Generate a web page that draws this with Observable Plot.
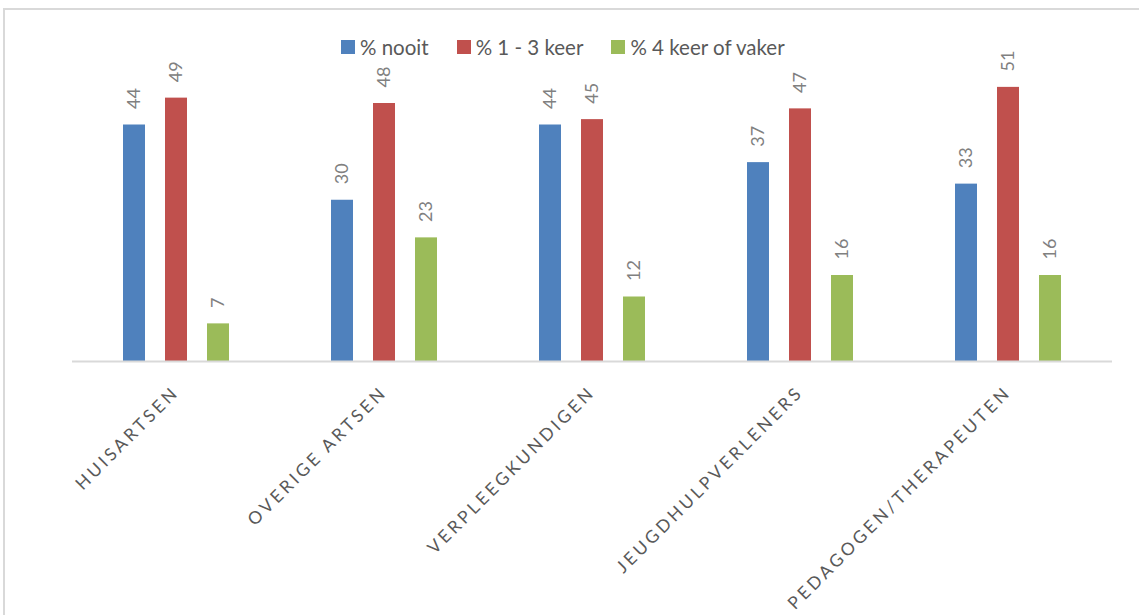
<!DOCTYPE html>
<html>
<head>
<meta charset="utf-8">
<script src="https://cdn.jsdelivr.net/npm/d3@7"></script>
<script src="https://cdn.jsdelivr.net/npm/@observablehq/plot@0.6"></script>
<style>
  body { margin: 0; background: #fff; }
  #wrap { position: relative; width: 1139px; height: 615px; overflow: hidden; font-family: Lato, "Open Sans", sans-serif; }
  #box { position: absolute; left: 3px; top: 8px; width: 1200px; height: 700px; border-left: 2px solid #d9d9d9; border-top: 2px solid #d9d9d9; }
  #chart { position: absolute; left: 0; top: 0; }
  #legend { position: absolute; top: 35px; left: 341px; display: flex; align-items: center; font-size: 20.5px; color: #595959; white-space: nowrap; }
  .item { display: flex; align-items: center; margin-right: 28px; }
  .sw { width: 14px; height: 14px; margin-right: 5px; }
  g[aria-description="categories"] text { letter-spacing: 3.2px; }
</style>
</head>
<body>
<div id="wrap">
  <div id="box"></div>
  <div id="chart"></div>
  <div id="legend"></div>
</div>
<script>
const categories = ["HUISARTSEN", "OVERIGE ARTSEN", "VERPLEEGKUNDIGEN", "JEUGDHULPVERLENERS", "PEDAGOGEN/THERAPEUTEN"];
const series = ["% nooit", "% 1 - 3 keer", "% 4 keer of vaker"];
const nooit = [44, 30, 44, 37, 33];
const keer1tot3 = [49, 48, 45, 47, 51];
const keer4ofVaker = [7, 23, 12, 16, 16];
const colors = ["#4f81bd", "#c0504d", "#9bbb59"];

const seriesValues = [nooit, keer1tot3, keer4ofVaker];
const data = [];
categories.forEach((c, i) => {
  series.forEach((s, j) => data.push({cat: c, series: s, value: seriesValues[j][i]}));
});

const font = "Lato, 'Open Sans', sans-serif";

const chart = Plot.plot({
  width: 1139,
  height: 615,
  marginLeft: 71,
  marginRight: 27,
  marginTop: 38.5,
  marginBottom: 254,
  style: {fontFamily: font, background: "transparent"},
  fx: {domain: categories, padding: 0, axis: null, label: null},
  x: {domain: series, paddingInner: 0.482, paddingOuter: 1.19, axis: null},
  y: {domain: [0, 60], axis: null},
  color: {domain: series, range: colors},
  marks: [
    Plot.barY(data, {fx: "cat", x: "series", y: "value", fill: "series"}),
    Plot.ruleY([0], {stroke: "#d9d9d9", strokeWidth: 2}),
    Plot.text(data, {
      fx: "cat", x: "series", y: "value", text: d => String(d.value),
      rotate: -90, textAnchor: "start", dy: -16,
      fill: "#808080", fontSize: 18, fontFamily: font
    }),
    Plot.text(categories, {
      fx: d => d, text: d => d, frameAnchor: "bottom",
      rotate: -45, textAnchor: "end", lineAnchor: "top",
      dx: -5, dy: 23, fill: "#595959", fontSize: 17.5, fontFamily: font,
      ariaDescription: "categories"
    })
  ]
});
document.getElementById("chart").appendChild(chart);

const legend = document.getElementById("legend");
series.forEach((s, j) => {
  const item = document.createElement("div");
  item.className = "item";
  const sw = document.createElement("div");
  sw.className = "sw";
  sw.style.background = colors[j];
  const label = document.createElement("span");
  label.textContent = s;
  item.appendChild(sw);
  item.appendChild(label);
  legend.appendChild(item);
});
</script>
</body>
</html>
